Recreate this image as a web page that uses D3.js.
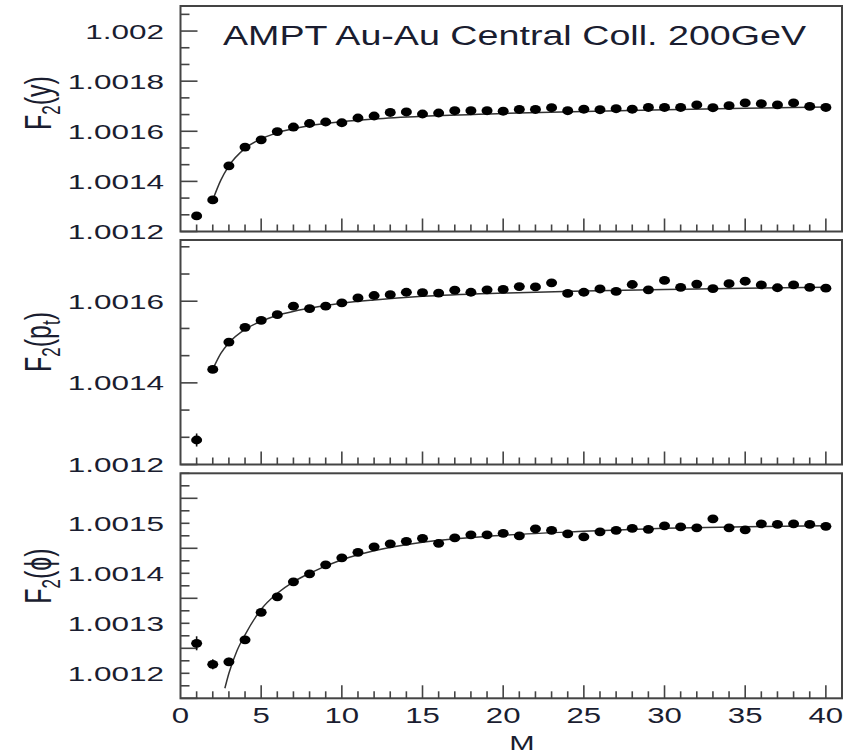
<!DOCTYPE html>
<html><head><meta charset="utf-8">
<script src="https://cdn.jsdelivr.net/npm/d3@7"></script>
<style>html,body{margin:0;padding:0;background:#fff;}svg{display:block;}</style>
</head><body>
<svg id="chart" width="859" height="755"></svg>
<script>
// ---------------- DATA ----------------
const M = [1,2,3,4,5,6,7,8,9,10,11,12,13,14,15,16,17,18,19,20,21,22,23,24,25,26,27,28,29,30,31,32,33,34,35,36,37,38,39,40];

const F2y = [1.001262,1.001326,1.001462,1.001537,1.001566,1.001599,1.001617,1.001631,1.001637,1.001634,
             1.001653,1.001661,1.001675,1.001677,1.001669,1.001673,1.001682,1.001682,1.001682,1.001680,
             1.001687,1.001687,1.001694,1.001682,1.001688,1.001686,1.001690,1.001688,1.001695,1.001695,
             1.001695,1.001705,1.001694,1.001702,1.001713,1.001710,1.001705,1.001713,1.001699,1.001695];
const F2pt = [1.001260,1.001433,1.001500,1.001536,1.001553,1.001567,1.001588,1.001582,1.001588,1.001596,
              1.001608,1.001614,1.001616,1.001622,1.001621,1.001620,1.001627,1.001622,1.001628,1.001629,
              1.001636,1.001635,1.001645,1.001619,1.001622,1.001630,1.001624,1.001641,1.001628,1.001651,
              1.001634,1.001642,1.001631,1.001643,1.001649,1.001640,1.001633,1.001640,1.001634,1.001632];
const F2phi = [1.001260,1.001218,1.001223,1.001267,1.001322,1.001353,1.001383,1.001399,1.001417,1.001431,
               1.001442,1.001453,1.001459,1.001464,1.001470,1.001460,1.001471,1.001477,1.001477,1.001480,
               1.001475,1.001489,1.001486,1.001479,1.001473,1.001483,1.001486,1.001490,1.001488,1.001495,
               1.001493,1.001491,1.001509,1.001491,1.001487,1.001499,1.001498,1.001499,1.001498,1.001494];

// error bars (only visible ones)
const errY   = [0.000000];
const errPt  = [0.000016];
const errPhi = [0.000014, 0.000010, 0.000008];

// fitted curves
const fitM1 = [2,2.5,3,4,5,6,8,10,12,15,20,25,30,35,40];
const fitY1 = [1.001326,1.001405,1.001462,1.001532,1.001570,1.001594,1.001622,1.001638,1.001649,1.001660,1.001671,1.001679,1.001686,1.001692,1.001697];
const fitM2 = [2,2.5,3,4,5,6,8,10,12,15,20,25,30,35,40];
const fitY2 = [1.001433,1.001472,1.001498,1.001531,1.001551,1.001565,1.001583,1.001595,1.001603,1.001612,1.001620,1.001625,1.001629,1.001632,1.001634];
const fitM3 = [2.75,3,3.5,4,5,6,7,8,10,12,15,20,25,30,35,40];
const fitY3 = [1.001170,1.001200,1.001245,1.001277,1.001328,1.001360,1.001383,1.001400,1.001427,1.001445,1.001462,1.001476,1.001484,1.001490,1.001493,1.001495];

const xTickLabels = ["0","5","10","15","20","25","30","35","40"];
const yTicks1 = ["1.0012","1.0014","1.0016","1.0018","1.002"];
const yTicks2 = ["1.0012","1.0014","1.0016"];
const yTicks3 = ["1.0012","1.0013","1.0014","1.0015"];

const title = "AMPT Au-Au Central Coll. 200GeV";
const xTitle = "M";

// ---------------- LAYOUT ----------------
const svg = d3.select("#chart");
const FONT = "'Liberation Sans', Arial, Helvetica, sans-serif";
const TXT = "#1a1d30";
const FRAME = "#444";
const left = 180.5, right = 842;
const x = d3.scaleLinear().domain([0, 41]).range([left, right]);

const panels = [
  {top: 6,     bottom: 231.5, dom: [1.0012, 1.0021],  major: 0.0002, nsub: 3, ticks: yTicks1, data: F2y,  err: errY,  fitM: fitM1, fitV: fitY1, label: ["F","2","(y)"], labelY: 103},
  {top: 240,   bottom: 464.5, dom: [1.0012, 1.00175], major: 0.0002, nsub: 3, ticks: yTicks2, data: F2pt, err: errPt, fitM: fitM2, fitV: fitY2, label: ["F","2","(p","t",")"], labelY: 342},
  {top: 473.3, bottom: 698.3, dom: [1.00115, 1.0016], major: 0.0001, nsub: 4, ticks: yTicks3, data: F2phi,err: errPhi,fitM: fitM3, fitV: fitY3, label: ["F","2","(\u03D5)"], labelY: 576}
];

function sText(parent, px, py, str, size, sx, anchor, rot) {
  const t = parent.append("text")
    .attr("transform", `translate(${px},${py}) scale(${sx},1)` + (rot ? ` rotate(${rot})` : ""))
    .attr("font-family", FONT).attr("font-size", size)
    .attr("fill", TXT).attr("text-anchor", anchor || "start")
    .text(str);
  return t;
}

panels.forEach((p, pi) => {
  const y = d3.scaleLinear().domain(p.dom).range([p.bottom, p.top]);
  const g = svg.append("g");

  const cid = "clip" + pi;
  svg.append("clipPath").attr("id", cid).append("rect")
    .attr("x", left).attr("y", p.top).attr("width", right - left).attr("height", p.bottom - p.top);

  // x ticks (inward from bottom)
  const xt = [];
  for (let i = 1; i <= 40; i++) xt.push(i);
  g.selectAll(".xt").data(xt).enter().append("line")
    .attr("x1", d => x(d)).attr("x2", d => x(d))
    .attr("y1", p.bottom).attr("y2", d => p.bottom - (d % 5 === 0 ? 13 : 7))
    .attr("stroke", FRAME).attr("stroke-width", 1.6);

  // y ticks (inward from left)
  const yt = [];
  const step = p.major / p.nsub;
  for (let k = 0; ; k++) {
    const v = p.dom[0] + k * step;
    if (v > p.dom[1] + 1e-12) break;
    yt.push({v: v, major: k % p.nsub === 0});
  }
  g.selectAll(".yt").data(yt).enter().append("line")
    .attr("x1", left).attr("x2", d => left + (d.major ? 17 : 9))
    .attr("y1", d => y(d.v)).attr("y2", d => y(d.v))
    .attr("stroke", FRAME).attr("stroke-width", 1.6);

  // frame
  g.append("rect").attr("x", left).attr("y", p.top)
    .attr("width", right - left).attr("height", p.bottom - p.top)
    .attr("fill", "none").attr("stroke", FRAME).attr("stroke-width", 2);

  // y tick labels
  p.ticks.forEach(s => {
    sText(g, 164, y(+s) + 7.5, s, 21, 1.5, "end");
  });

  // y label
  const lab = g.append("text")
    .attr("transform", `translate(51,${p.labelY}) scale(1.5,1) rotate(-90)`)
    .attr("font-family", FONT).attr("font-size", 25).attr("fill", TXT)
    .attr("text-anchor", "middle");
  p.label.forEach((s, i) => {
    const sub = (i % 2 === 1);
    lab.append("tspan").text(s)
      .attr("font-size", sub ? 17 : 25)
      .attr("dy", sub ? 6 : (i === 0 ? 0 : -6));
  });

  // fit line
  const line = d3.line().x(d => x(d[0])).y(d => y(d[1])).curve(d3.curveMonotoneX);
  g.append("path").datum(p.fitM.map((m, i) => [m, p.fitV[i]]))
    .attr("d", line).attr("fill", "none").attr("stroke", "#333").attr("stroke-width", 1.5)
    .attr("clip-path", `url(#${cid})`);

  // error bars
  g.selectAll(".err").data(p.err.map((e, i) => ({m: M[i], v: p.data[i], e: e})).filter(d => d.e > 0))
    .enter().append("line")
    .attr("x1", d => x(d.m)).attr("x2", d => x(d.m))
    .attr("y1", d => y(d.v - d.e)).attr("y2", d => y(d.v + d.e))
    .attr("stroke", "#111").attr("stroke-width", 1.6);

  // points
  g.selectAll(".pt").data(M.map((m, i) => ({m: m, v: p.data[i]}))).enter().append("ellipse")
    .attr("cx", d => x(d.m)).attr("cy", d => y(d.v))
    .attr("rx", 5.5).attr("ry", 4.4).attr("fill", "#000");
});

// x tick labels
xTickLabels.forEach(s => sText(svg, x(+s), 723, s, 21.5, 1.45, "middle"));
// x title
sText(svg, 522, 749.5, xTitle, 21, 1.45, "middle");
// title
sText(svg, 223, 45, title, 28, 1.345, "start");
</script>
</body></html>
